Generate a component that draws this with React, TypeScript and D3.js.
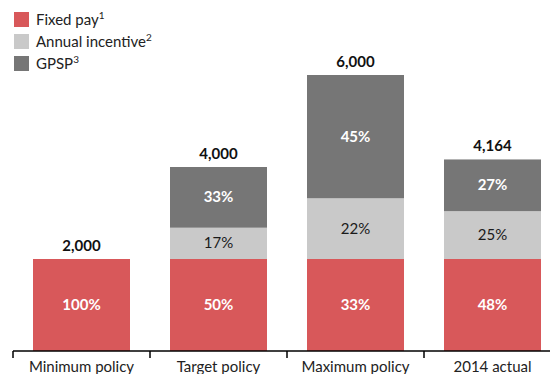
import React from "react";
import * as d3 from "d3";

const categories = ["Minimum policy", "Target policy", "Maximum policy", "2014 actual"];
const fixedPay = [2000, 2000, 2000, 2000];
const annualIncentive = [0, 680, 1320, 1040];
const gpsp = [0, 1320, 2680, 1124];
const totals = ["2,000", "4,000", "6,000", "4,164"];
const fixedPct = ["100%", "50%", "33%", "48%"];
const incentivePct = ["", "17%", "22%", "25%"];
const gpspPct = ["", "33%", "45%", "27%"];
const seriesNames = ["Fixed pay", "Annual incentive", "GPSP"];
const seriesSup = ["1", "2", "3"];
const colors = ["#D8585A", "#C9C9C9", "#767676"];
const textColors = ["#FFFFFF", "#1a1a1a", "#FFFFFF"];
const textBold = [true, false, true];

const W = 550;
const H = 374;
const FONT = "Lato, 'Open Sans', sans-serif";

export default function App() {
  const x = d3.scaleBand<string>().domain(categories).range([13, 561]).paddingInner(0.292).paddingOuter(0.146);
  const y = d3.scaleLinear().domain([0, 6000]).range([351, 75]);

  const data = categories.map((c, i) => ({
    cat: c,
    vals: [fixedPay[i], annualIncentive[i], gpsp[i]],
    pcts: [fixedPct[i], incentivePct[i], gpspPct[i]],
  }));

  const stack = d3.stack<any>().keys(["0", "1", "2"]).value((d: any, k: string) => d.vals[+k]);
  const series = stack(data as any);

  const boundaries = categories.map((c) => (x(c) as number) - (x.step() * x.paddingInner()) / 2);

  return (
    <svg width={W} height={H} style={{ position: "absolute", left: 0, top: 0, background: "#fff" }} fontFamily={FONT}>
      <text x={14} y={-3} fontSize={15} fill="#222">($ in thousands)</text>
      {seriesNames.map((s, i) => (
        <g key={s}>
          <rect x={14} y={12 + i * 22} width={15} height={15} fill={colors[i]} />
          <text x={36} y={25 + i * 22} fontSize={15} fill="#222">
            {s}
            <tspan fontSize={10} dy={-6}>{seriesSup[i]}</tspan>
          </text>
        </g>
      ))}
      {series.map((s, si) =>
        s.map((d: any, di) => {
          const v = d[1] - d[0];
          if (v <= 0) return null;
          const cat = categories[di];
          const bx = x(cat) as number;
          const y0 = y(d[0]);
          const y1 = y(d[1]);
          return (
            <g key={`${si}-${di}`}>
              <rect x={bx} y={y1} width={x.bandwidth()} height={y0 - y1} fill={colors[si]} />
              <text
                x={bx + x.bandwidth() / 2}
                y={(y0 + y1) / 2 + 5}
                textAnchor="middle"
                fontSize={15}
                fontWeight={textBold[si] ? "bold" : "normal"}
                fill={textColors[si]}
              >
                {data[di].pcts[si]}
              </text>
            </g>
          );
        })
      )}
      {categories.map((c, i) => {
        const total = fixedPay[i] + annualIncentive[i] + gpsp[i];
        return (
          <text key={c} x={(x(c) as number) + x.bandwidth() / 2} y={y(total) - 8} textAnchor="middle" fontSize={15} fontWeight="bold" fill="#111">
            {totals[i]}
          </text>
        );
      })}
      <line x1={13} x2={W} y1={351} y2={351} stroke="#000" strokeWidth={1.5} />
      {boundaries.map((b, i) => (
        <line key={i} x1={b} x2={b} y1={351} y2={358} stroke="#000" strokeWidth={1.5} />
      ))}
      {categories.map((c) => (
        <text key={c} x={(x(c) as number) + x.bandwidth() / 2} y={372} textAnchor="middle" fontSize={15} fill="#222">
          {c}
        </text>
      ))}
    </svg>
  );
}
